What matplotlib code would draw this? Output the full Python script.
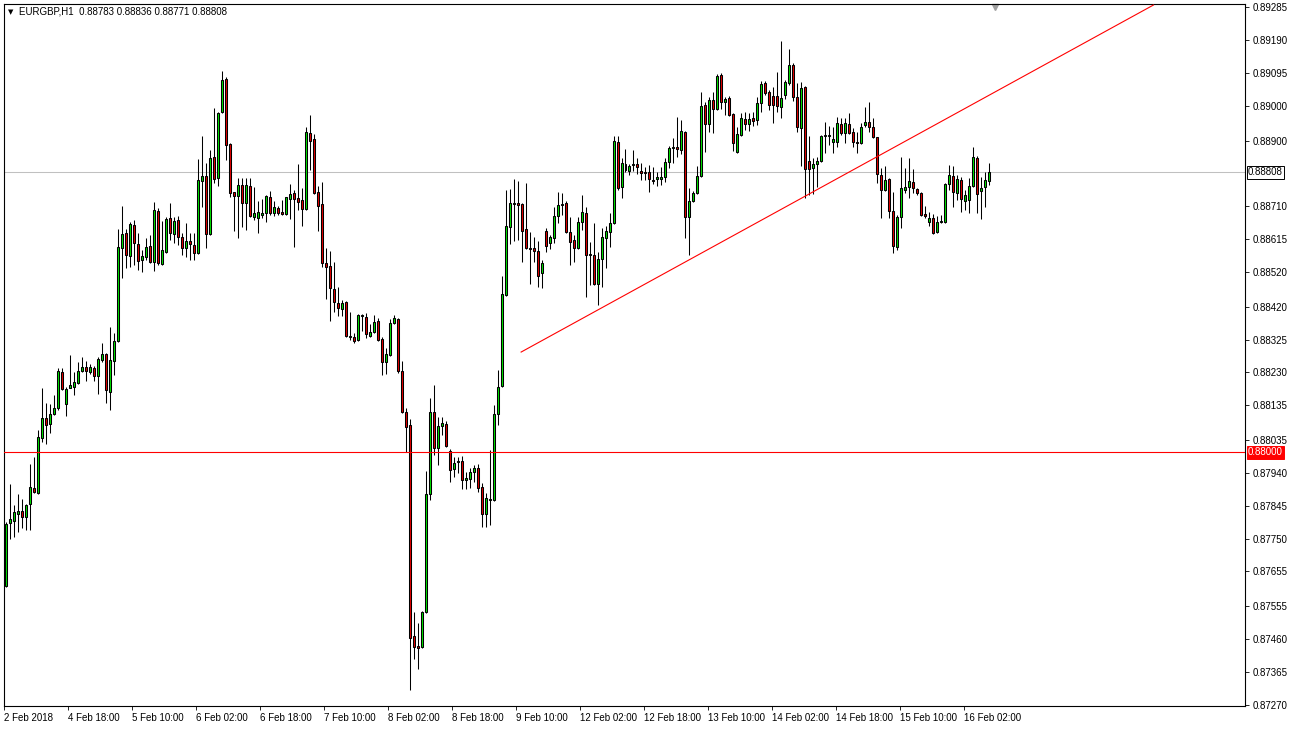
import numpy as np
import matplotlib.pyplot as plt
from matplotlib.transforms import blended_transform_factory

plt.rcParams['font.family'] = ['Liberation Sans', 'DejaVu Sans']

# EURGBP H1 candles (oldest first)
opens = [
    0.87613, 0.87795, 0.87801, 0.87821, 0.87829, 0.87812, 0.87850, 0.87896, 0.87882, 0.88040,
    0.88098, 0.88081, 0.88110, 0.88127, 0.88231, 0.88139, 0.88185, 0.88188, 0.88199, 0.88234,
    0.88246, 0.88231, 0.88243, 0.88220, 0.88266, 0.88283, 0.88173, 0.88263, 0.88321, 0.88590,
    0.88633, 0.88566, 0.88656, 0.88601, 0.88555, 0.88564, 0.88595, 0.88549, 0.88696, 0.88543,
    0.88578, 0.88676, 0.88630, 0.88670, 0.88621, 0.88590, 0.88610, 0.88598, 0.88575, 0.88783,
    0.88798, 0.88630, 0.88853, 0.88792, 0.88982, 0.89078, 0.88890, 0.88751, 0.88740, 0.88772,
    0.88720, 0.88769, 0.88679, 0.88676, 0.88685, 0.88691, 0.88737, 0.88691, 0.88705, 0.88694,
    0.88688, 0.88731, 0.88749, 0.88734, 0.88728, 0.88702, 0.88922, 0.88905, 0.88751, 0.88717,
    0.88546, 0.88538, 0.88471, 0.88431, 0.88413, 0.88434, 0.88332, 0.88332, 0.88324, 0.88393,
    0.88390, 0.88335, 0.88347, 0.88379, 0.88327, 0.88260, 0.88280, 0.88373, 0.88384, 0.88234,
    0.88116, 0.88078, 0.87468, 0.87439, 0.87436, 0.87538, 0.87879, 0.88116, 0.88012, 0.88075,
    0.88081, 0.88003, 0.87951, 0.87971, 0.87974, 0.87919, 0.87922, 0.87942, 0.87954, 0.87899,
    0.87821, 0.87861, 0.87861, 0.88110, 0.88191, 0.88454, 0.88650, 0.88717, 0.88720, 0.88717,
    0.88644, 0.88590, 0.88590, 0.88581, 0.88517, 0.88639, 0.88604, 0.88618, 0.88682, 0.88714,
    0.88720, 0.88636, 0.88613, 0.88590, 0.88665, 0.88691, 0.88572, 0.88569, 0.88486, 0.88558,
    0.88618, 0.88636, 0.88662, 0.88896, 0.88766, 0.88832, 0.88812, 0.88829, 0.88832, 0.88812,
    0.88809, 0.88809, 0.88786, 0.88789, 0.88789, 0.88795, 0.88838, 0.88879, 0.88881, 0.88873,
    0.88925, 0.88679, 0.88725, 0.88749, 0.88798, 0.89003, 0.88948, 0.89017, 0.88991, 0.89090,
    0.89012, 0.89023, 0.88977, 0.88867, 0.88916, 0.88962, 0.88948, 0.88965, 0.88959, 0.89009,
    0.89066, 0.89040, 0.89029, 0.89029, 0.88997, 0.89032, 0.89066, 0.89118, 0.89026, 0.88936,
    0.89055, 0.88841, 0.88821, 0.88832, 0.88841, 0.88913, 0.88913, 0.88896, 0.88896, 0.88948,
    0.88922, 0.88948, 0.88925, 0.88896, 0.88893, 0.88945, 0.88954, 0.88939, 0.88910, 0.88801,
    0.88757, 0.88789, 0.88696, 0.88592, 0.88679, 0.88757, 0.88766, 0.88780, 0.88760, 0.88749,
    0.88688, 0.88665, 0.88676, 0.88636, 0.88665, 0.88665, 0.88775, 0.88798, 0.88749, 0.88786,
    0.88725, 0.88728, 0.88769, 0.88850, 0.88754, 0.88766, 0.88783,
]
highs = [
    0.87798, 0.87908, 0.87847, 0.87879, 0.87864, 0.87850, 0.87965, 0.87986, 0.88064, 0.88185,
    0.88142, 0.88139, 0.88165, 0.88243, 0.88243, 0.88188, 0.88280, 0.88231, 0.88260, 0.88275,
    0.88263, 0.88254, 0.88248, 0.88275, 0.88315, 0.88285, 0.88361, 0.88344, 0.88645, 0.88711,
    0.88645, 0.88665, 0.88670, 0.88633, 0.88584, 0.88618, 0.88627, 0.88722, 0.88705, 0.88668,
    0.88679, 0.88720, 0.88679, 0.88682, 0.88633, 0.88662, 0.88633, 0.88633, 0.88847, 0.88913,
    0.88835, 0.88873, 0.88994, 0.88983, 0.89101, 0.89084, 0.88892, 0.88753, 0.88792, 0.88792,
    0.88792, 0.88792, 0.88766, 0.88725, 0.88731, 0.88743, 0.88754, 0.88725, 0.88711, 0.88728,
    0.88738, 0.88775, 0.88757, 0.88832, 0.88763, 0.88939, 0.88974, 0.88919, 0.88769, 0.88780,
    0.88590, 0.88581, 0.88549, 0.88477, 0.88439, 0.88436, 0.88405, 0.88344, 0.88399, 0.88399,
    0.88402, 0.88370, 0.88396, 0.88387, 0.88332, 0.88301, 0.88384, 0.88396, 0.88386, 0.88263,
    0.88127, 0.88095, 0.87538, 0.87506, 0.87540, 0.87945, 0.88156, 0.88194, 0.88101, 0.88101,
    0.88090, 0.88009, 0.87986, 0.87986, 0.87988, 0.87942, 0.87954, 0.87962, 0.87965, 0.87910,
    0.87882, 0.88006, 0.88136, 0.88237, 0.88509, 0.88757, 0.88760, 0.88789, 0.88783, 0.88719,
    0.88777, 0.88636, 0.88621, 0.88610, 0.88555, 0.88647, 0.88627, 0.88708, 0.88751, 0.88749,
    0.88725, 0.88679, 0.88627, 0.88679, 0.88743, 0.88708, 0.88607, 0.88662, 0.88578, 0.88647,
    0.88653, 0.88691, 0.88913, 0.88913, 0.88850, 0.88876, 0.88832, 0.88873, 0.88850, 0.88835,
    0.88824, 0.88829, 0.88824, 0.88809, 0.88824, 0.88850, 0.88884, 0.88907, 0.88968, 0.88959,
    0.88928, 0.88763, 0.88754, 0.88827, 0.89040, 0.89012, 0.89026, 0.89040, 0.89092, 0.89095,
    0.89026, 0.89029, 0.88980, 0.88939, 0.88980, 0.88983, 0.88980, 0.88983, 0.89026, 0.89072,
    0.89072, 0.89046, 0.89055, 0.89098, 0.89188, 0.89075, 0.89165, 0.89124, 0.89066, 0.89069,
    0.89057, 0.88913, 0.88850, 0.88853, 0.88916, 0.88954, 0.88942, 0.88939, 0.88968, 0.88965,
    0.88965, 0.88980, 0.88936, 0.88925, 0.88951, 0.88997, 0.89012, 0.88965, 0.88912, 0.88821,
    0.88827, 0.88792, 0.88751, 0.88685, 0.88853, 0.88821, 0.88850, 0.88818, 0.88762, 0.88751,
    0.88711, 0.88694, 0.88688, 0.88682, 0.88685, 0.88777, 0.88829, 0.88827, 0.88801, 0.88795,
    0.88757, 0.88792, 0.88881, 0.88855, 0.88795, 0.88809, 0.88836,
]
lows = [
    0.87610, 0.87749, 0.87754, 0.87769, 0.87780, 0.87775, 0.87775, 0.87882, 0.87879, 0.88029,
    0.88023, 0.88055, 0.88108, 0.88121, 0.88179, 0.88104, 0.88184, 0.88165, 0.88197, 0.88231,
    0.88205, 0.88225, 0.88205, 0.88168, 0.88260, 0.88142, 0.88121, 0.88223, 0.88318, 0.88503,
    0.88532, 0.88535, 0.88540, 0.88526, 0.88520, 0.88555, 0.88546, 0.88523, 0.88540, 0.88541,
    0.88576, 0.88613, 0.88604, 0.88598, 0.88569, 0.88564, 0.88555, 0.88555, 0.88573, 0.88708,
    0.88590, 0.88628, 0.88777, 0.88769, 0.88980, 0.88844, 0.88737, 0.88639, 0.88618, 0.88650,
    0.88642, 0.88679, 0.88670, 0.88633, 0.88676, 0.88665, 0.88685, 0.88682, 0.88685, 0.88685,
    0.88685, 0.88673, 0.88592, 0.88699, 0.88653, 0.88699, 0.88815, 0.88747, 0.88639, 0.88535,
    0.88442, 0.88379, 0.88405, 0.88393, 0.88393, 0.88332, 0.88324, 0.88315, 0.88321, 0.88350,
    0.88329, 0.88332, 0.88344, 0.88322, 0.88223, 0.88225, 0.88278, 0.88371, 0.88228, 0.88114,
    0.88000, 0.87312, 0.87402, 0.87373, 0.87434, 0.87536, 0.87861, 0.87991, 0.87962, 0.88049,
    0.88015, 0.87913, 0.87928, 0.87939, 0.87893, 0.87893, 0.87896, 0.87913, 0.87884, 0.87783,
    0.87783, 0.87789, 0.87859, 0.88078, 0.88189, 0.88451, 0.88601, 0.88610, 0.88613, 0.88549,
    0.88588, 0.88486, 0.88549, 0.88477, 0.88474, 0.88578, 0.88587, 0.88604, 0.88662, 0.88685,
    0.88634, 0.88540, 0.88549, 0.88588, 0.88642, 0.88448, 0.88483, 0.88484, 0.88425, 0.88477,
    0.88532, 0.88592, 0.88659, 0.88757, 0.88734, 0.88809, 0.88801, 0.88812, 0.88803, 0.88786,
    0.88786, 0.88751, 0.88775, 0.88769, 0.88772, 0.88780, 0.88821, 0.88835, 0.88853, 0.88861,
    0.88618, 0.88569, 0.88722, 0.88746, 0.88795, 0.88867, 0.88925, 0.88922, 0.88988, 0.88991,
    0.88974, 0.88971, 0.88870, 0.88865, 0.88913, 0.88931, 0.88928, 0.88942, 0.88945, 0.88983,
    0.89032, 0.88988, 0.88951, 0.88983, 0.88965, 0.89020, 0.89061, 0.89014, 0.88925, 0.88827,
    0.88734, 0.88743, 0.88746, 0.88766, 0.88838, 0.88864, 0.88887, 0.88864, 0.88881, 0.88916,
    0.88893, 0.88919, 0.88881, 0.88864, 0.88891, 0.88939, 0.88925, 0.88908, 0.88777, 0.88676,
    0.88754, 0.88676, 0.88575, 0.88584, 0.88647, 0.88749, 0.88734, 0.88749, 0.88743, 0.88682,
    0.88676, 0.88653, 0.88631, 0.88633, 0.88662, 0.88662, 0.88757, 0.88708, 0.88728, 0.88694,
    0.88699, 0.88691, 0.88766, 0.88691, 0.88673, 0.88708, 0.88771,
]
closes = [
    0.87792, 0.87806, 0.87827, 0.87829, 0.87812, 0.87847, 0.87899, 0.87884, 0.88043, 0.88098,
    0.88078, 0.88110, 0.88127, 0.88234, 0.88182, 0.88182, 0.88194, 0.88202, 0.88234, 0.88246,
    0.88234, 0.88246, 0.88220, 0.88269, 0.88283, 0.88179, 0.88266, 0.88321, 0.88592, 0.88630,
    0.88569, 0.88659, 0.88604, 0.88552, 0.88566, 0.88592, 0.88549, 0.88699, 0.88546, 0.88584,
    0.88673, 0.88633, 0.88668, 0.88621, 0.88590, 0.88610, 0.88601, 0.88575, 0.88786, 0.88798,
    0.88630, 0.88850, 0.88789, 0.88980, 0.89075, 0.88887, 0.88749, 0.88740, 0.88772, 0.88720,
    0.88772, 0.88682, 0.88691, 0.88694, 0.88691, 0.88740, 0.88691, 0.88708, 0.88691, 0.88688,
    0.88737, 0.88746, 0.88731, 0.88722, 0.88702, 0.88925, 0.88899, 0.88749, 0.88711, 0.88546,
    0.88535, 0.88474, 0.88434, 0.88416, 0.88431, 0.88334, 0.88335, 0.88321, 0.88396, 0.88396,
    0.88341, 0.88347, 0.88376, 0.88324, 0.88260, 0.88283, 0.88373, 0.88387, 0.88234, 0.88116,
    0.88072, 0.87462, 0.87436, 0.87434, 0.87538, 0.87879, 0.88116, 0.88012, 0.88075, 0.88084,
    0.88017, 0.87948, 0.87968, 0.87974, 0.87919, 0.87925, 0.87942, 0.87954, 0.87896, 0.87821,
    0.87867, 0.87864, 0.88110, 0.88188, 0.88457, 0.88653, 0.88720, 0.88720, 0.88714, 0.88639,
    0.88590, 0.88587, 0.88581, 0.88509, 0.88546, 0.88595, 0.88621, 0.88682, 0.88714, 0.88717,
    0.88636, 0.88607, 0.88590, 0.88665, 0.88694, 0.88569, 0.88569, 0.88486, 0.88558, 0.88621,
    0.88639, 0.88662, 0.88899, 0.88763, 0.88835, 0.88815, 0.88827, 0.88832, 0.88824, 0.88806,
    0.88806, 0.88789, 0.88783, 0.88795, 0.88795, 0.88838, 0.88879, 0.88881, 0.88876, 0.88928,
    0.88679, 0.88725, 0.88749, 0.88798, 0.89000, 0.88948, 0.89017, 0.88991, 0.89087, 0.89012,
    0.89020, 0.88974, 0.88893, 0.88919, 0.88965, 0.88948, 0.88962, 0.88957, 0.89009, 0.89064,
    0.89038, 0.89003, 0.89003, 0.89000, 0.89023, 0.89069, 0.89118, 0.89026, 0.88939, 0.89052,
    0.88818, 0.88818, 0.88832, 0.88841, 0.88913, 0.88916, 0.88916, 0.88905, 0.88951, 0.88922,
    0.88951, 0.88922, 0.88896, 0.88893, 0.88939, 0.88954, 0.88939, 0.88910, 0.88803, 0.88757,
    0.88786, 0.88696, 0.88595, 0.88679, 0.88763, 0.88766, 0.88783, 0.88763, 0.88749, 0.88685,
    0.88682, 0.88676, 0.88633, 0.88665, 0.88668, 0.88775, 0.88801, 0.88751, 0.88789, 0.88731,
    0.88743, 0.88769, 0.88853, 0.88746, 0.88763, 0.88786, 0.88808,
]

time_labels = ["2 Feb 2018", "4 Feb 18:00", "5 Feb 10:00", "6 Feb 02:00", "6 Feb 18:00",
               "7 Feb 10:00", "8 Feb 02:00", "8 Feb 18:00", "9 Feb 10:00", "12 Feb 02:00",
               "12 Feb 18:00", "13 Feb 10:00", "14 Feb 02:00", "14 Feb 18:00", "15 Feb 10:00",
               "16 Feb 02:00"]
price_ticks = [0.89285, 0.89190, 0.89095, 0.89000, 0.88900, 0.88710, 0.88615, 0.88520,
               0.88420, 0.88325, 0.88230, 0.88135, 0.88035, 0.87940, 0.87845, 0.87750,
               0.87655, 0.87555, 0.87460, 0.87365, 0.87270]
bid = 0.88808
level = 0.88000
trend_x = [128.9, 287.0]
trend_y = [0.88289, 0.89292]
header = "EURGBP,H1  0.88783 0.88836 0.88771 0.88808"

W, H = 1291, 731
fig = plt.figure(figsize=(W / 100, H / 100), dpi=100)
ax = fig.add_axes([4 / W, 25 / H, 1241 / W, 702 / H])

o = np.array(opens)
h = np.array(highs)
l = np.array(lows)
c = np.array(closes)
x = np.arange(len(o))
up = c >= o

ax.axhline(bid, color='#c0c0c0', lw=0.75, zorder=1)
ax.vlines(x, l, h, color='black', lw=0.75, zorder=2)
ax.bar(x[up], (c - o)[up], bottom=o[up], width=0.5, color='#00e000',
       edgecolor='black', lw=0.75, zorder=3)
ax.bar(x[~up], (o - c)[~up], bottom=c[~up], width=0.5, color='#e00000',
       edgecolor='black', lw=0.75, zorder=3)
ax.axhline(level, color='red', lw=0.8, zorder=4)
ax.plot(trend_x, trend_y, color='red', lw=0.8, zorder=4)

ax.set_xlim(-0.33, 309.9)
ax.set_ylim(0.87266, 0.89295)

ax.yaxis.tick_right()
ax.set_yticks(price_ticks)
ax.set_yticklabels([f"{p:.5f}" for p in price_ticks])
ax.set_xticks([16 * k - 0.4 for k in range(len(time_labels))])
ax.set_xticklabels(time_labels, ha='left')
ax.tick_params(axis='y', length=3, width=0.6, pad=2.5, labelsize=7)
ax.tick_params(axis='x', length=3, width=0.6, pad=2, labelsize=7)
for s in ax.spines.values():
    s.set_linewidth(0.8)
    s.set_color('black')

# price labels on the axis
tr = blended_transform_factory(ax.transAxes, ax.transData)
ax.text(1.0025, bid, f"{bid:.5f}", transform=tr, ha='left', va='center', fontsize=7,
        color='black', bbox=dict(boxstyle='square,pad=0.15', fc='white', ec='black', lw=0.7))
ax.text(1.0025, level, f"{level:.5f}", transform=tr, ha='left', va='center', fontsize=7,
        color='white', bbox=dict(boxstyle='square,pad=0.15', fc='red', ec='red', lw=0.7))

# chart shift marker and header
ax.plot([0.7986], [0.9957], marker='v', ms=5, color='#a0a0a0', transform=ax.transAxes,
        clip_on=False)
fig.text(8 / W, 1 - 12 / H, "\u25bc", fontsize=5, va='center', ha='left',
         family='DejaVu Sans')
fig.text(19 / W, 1 - 12 / H, header, fontsize=7, va='center', ha='left')

fig.savefig('out.png', dpi=100)
